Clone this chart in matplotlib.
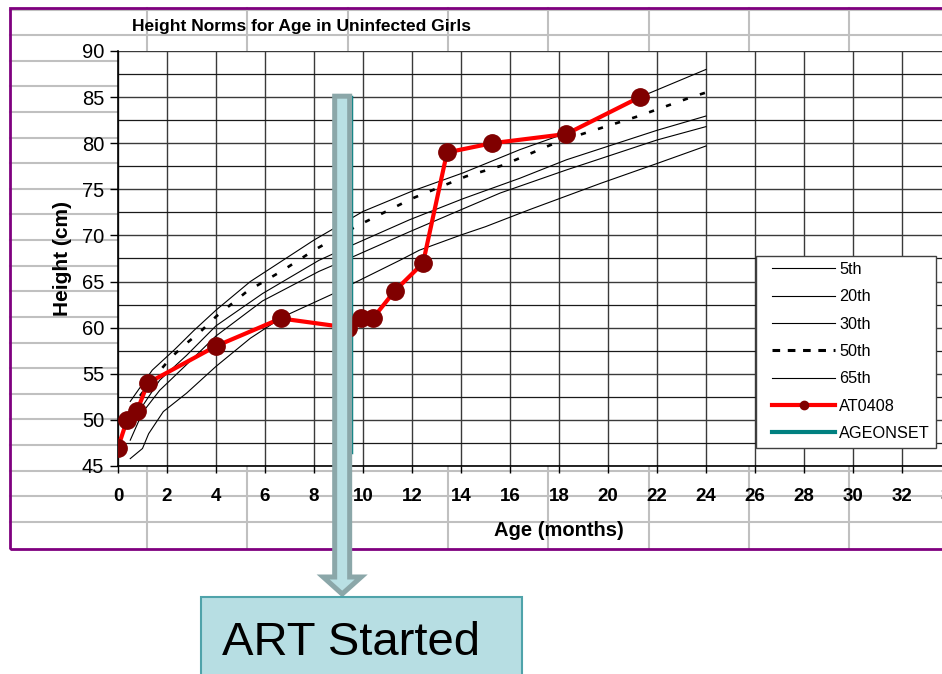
import matplotlib
matplotlib.use("Agg")
import matplotlib.pyplot as plt
from matplotlib.lines import Line2D
from matplotlib.patches import Rectangle, Polygon
from matplotlib.ticker import MultipleLocator

plt.rcParams['font.family'] = ['Liberation Sans', 'DejaVu Sans']

# ---------------- data ----------------
title = "Height Norms for Age in Uninfected Girls"
x_label = "Age (months)"
y_label = "Height (cm)"
annotation_text = "ART Started"

p5_age = [0.5, 1.0, 1.25, 1.85, 2.8, 4.0, 5.4, 6.75, 8.8, 9.6, 11.5, 12.3, 14.0, 15.0, 16.8, 19.7, 22.0, 24.0]
p5_height = [45.8, 46.9, 48.5, 50.9, 52.9, 55.8, 58.85, 61.2, 63.7, 64.8, 67.3, 68.4, 70.05, 70.95, 72.8, 75.65, 77.8, 79.7]

p20_age = [0.5, 1.0, 1.7, 2.8, 4.0, 5.9, 8.2, 9.6, 11.9, 14.1, 15.6, 18.3, 22.0, 24.0]
p20_height = [47.8, 50.8, 53.2, 56.0, 59.1, 62.9, 66.1, 67.7, 70.4, 72.9, 74.6, 77.1, 80.35, 81.8]

p30_age = [1.0, 1.7, 2.8, 4.0, 5.9, 8.2, 9.6, 11.9, 14.1, 16.4, 18.3, 22.0, 24.0]
p30_height = [51.5, 54.3, 57.0, 60.2, 63.7, 67.3, 69.0, 71.7, 74.0, 76.2, 78.2, 81.4, 82.95]

p50_age = [0.9, 1.6, 2.2, 2.7, 3.3, 4.0, 5.25, 6.75, 8.0, 9.7, 12.0, 14.2, 15.7, 18.0, 21.2, 23.3, 24.0]
p50_height = [52.6, 55.0, 56.85, 58.1, 59.4, 61.2, 63.9, 66.25, 68.4, 70.95, 74.0, 76.4, 77.6, 80.2, 82.9, 84.9, 85.5]

p65_age = [0.5, 1.4, 2.3, 3.1, 4.0, 5.4, 8.0, 10.0, 12.0, 14.1, 16.4, 18.3, 21.3, 24.0]
p65_height = [52.0, 55.4, 57.6, 59.7, 61.9, 65.0, 69.5, 72.6, 74.8, 76.8, 79.3, 81.1, 85.0, 88.0]

patient_age = [0.0, 0.37, 0.78, 1.22, 4.0, 6.65, 9.4, 9.9, 10.4, 11.3, 12.45, 13.43, 15.27, 18.3, 21.3]
patient_height = [47, 50, 51, 54, 58, 61, 60, 61, 61, 64, 67, 79, 80, 81, 85]

ageonset_age = [9.5, 9.5]
ageonset_height = [46.5, 85.0]

art_start_month = 9.15
art_arrow_top = 85.1

x_ticks = list(range(0, 38, 2))
y_ticks = list(range(45, 95, 5))

# ---------------- figure ----------------
W, H = 942, 674
fig = plt.figure(figsize=(W / 100, H / 100), dpi=100)
fig.patch.set_facecolor('white')


def fx(px):
    return px / W


def fy(py):
    return 1 - py / H


# spreadsheet cell grid behind the (transparent) chart area
rows = [9.5] + [35 + 25.63 * k for k in range(20)]
cols = [147 + 100.3 * k for k in range(8)]
for y in rows:
    fig.add_artist(Line2D([fx(10), 1.0], [fy(y), fy(y)], transform=fig.transFigure,
                          color='#c0c0c0', lw=1.5, zorder=-2))
for x in cols:
    fig.add_artist(Line2D([fx(x), fx(x)], [fy(8), fy(549)], transform=fig.transFigure,
                          color='#c0c0c0', lw=1.5, zorder=-2))

# chart border (purple)
fig.add_artist(Rectangle((fx(10), fy(549)), fx(990) - fx(10), fy(8) - fy(549),
                         transform=fig.transFigure, fill=False, edgecolor='#7f007f',
                         lw=2.0, zorder=5))

# plot area
ax = fig.add_axes([fx(118), fy(466), 882 / W, 415 / H])
ax.set_zorder(1)
ax.set_facecolor('white')
ax.set_xlim(0, 36)
ax.set_ylim(45, 90)
ax.set_xticks(x_ticks)
ax.set_yticks(y_ticks)
ax.yaxis.set_minor_locator(MultipleLocator(2.5))
ax.grid(True, which='major', color='#3a3a3a', lw=1.0)
ax.grid(True, which='minor', axis='y', color='#1a1a1a', lw=0.9)
ax.set_axisbelow(True)
for s in ['top', 'right']:
    ax.spines[s].set_visible(False)
for s in ['left', 'bottom']:
    ax.spines[s].set_color('black')
    ax.spines[s].set_linewidth(1.2)
ax.tick_params(axis='y', which='major', direction='out', length=6, width=1, pad=4,
               labelsize=14.5)
ax.tick_params(axis='y', which='minor', length=0)
ax.tick_params(axis='x', direction='out', length=5, width=1, pad=11, labelsize=13.5)
for lab in ax.get_xticklabels():
    lab.set_fontweight('bold')

# percentile curves
l5, = ax.plot(p5_age, p5_height, color='black', lw=0.8, label='5th', zorder=3)
l20, = ax.plot(p20_age, p20_height, color='black', lw=0.8, label='20th', zorder=3)
l30, = ax.plot(p30_age, p30_height, color='black', lw=0.8, label='30th', zorder=3)
l50, = ax.plot(p50_age, p50_height, color='black', lw=1.9, label='50th', zorder=3,
               dashes=(2.0, 4.8))
l65, = ax.plot(p65_age, p65_height, color='black', lw=0.8, label='65th', zorder=3)

lon, = ax.plot(ageonset_age, ageonset_height, color='#008080', lw=2.5, zorder=3.5)
ax.plot(patient_age, patient_height, color='#ff0000', lw=3.0, marker='o', markersize=12.5,
        markerfacecolor='#800000', markeredgecolor='#800000', zorder=4)

# legend
h_pat = Line2D([], [], color='#ff0000', lw=3.0, marker='o', markersize=6,
               markerfacecolor='#800000', markeredgecolor='#800000')
h_on = Line2D([], [], color='#008080', lw=3.0)
h50 = Line2D([], [], color='black', lw=2.2, dashes=(2.5, 2.5))
ax.add_patch(Rectangle((fx(756), fy(448)), fx(936) - fx(756), fy(256) - fy(448),
                       transform=fig.transFigure, facecolor='white', edgecolor='#404040',
                       lw=1.0, zorder=5.5, clip_on=False))
leg = ax.legend([l5, l20, l30, h50, l65, h_pat, h_on],
                ['5th', '20th', '30th', '50th', '65th', 'AT0408', 'AGEONSET'],
                loc='upper left', bbox_to_anchor=(fx(772), fy(262)),
                bbox_transform=fig.transFigure, frameon=False, borderpad=0,
                borderaxespad=0, fontsize=11.7, handlelength=3.9, handletextpad=0.25,
                labelspacing=0.76)
leg.set_zorder(6)

# texts
fig.text(fx(302), fy(26), title, ha='center', va='center', fontsize=12.5, fontweight='bold')
fig.text(fx(62), fy(258), y_label, ha='center', va='center', rotation=90, fontsize=15,
         fontweight='bold')
fig.text(fx(559), fy(530), x_label, ha='center', va='center', fontsize=14.5,
         fontweight='bold')

# "ART Started" arrow and box
pt = fig.transFigure.inverted().transform(ax.transData.transform((art_start_month, art_arrow_top)))
cx = pt[0] * W
top = (1 - pt[1]) * H
hw, hh, head_y, tip_y = 7.5, 19, 577, 594
pts = [(cx - hw, top), (cx + hw, top), (cx + hw, head_y), (cx + hh, head_y), (cx, tip_y),
       (cx - hh, head_y), (cx - hw, head_y)]
fig.add_artist(Polygon([(fx(a), fy(b)) for a, b in pts], closed=True,
                       transform=fig.transFigure, facecolor='#b9e0e4', edgecolor='#8ba7a9',
                       lw=3.6, joinstyle='miter', zorder=10))
fig.add_artist(Rectangle((fx(201), fy(690)), fx(522) - fx(201), fy(597) - fy(690),
                         transform=fig.transFigure, facecolor='#b7dee3', edgecolor='#4fa3aa',
                         lw=1.5, zorder=11))
fig.text(fx(222), fy(655), annotation_text, ha='left', va='baseline', fontsize=34,
         zorder=12)

fig.savefig('out.png', dpi=100)
